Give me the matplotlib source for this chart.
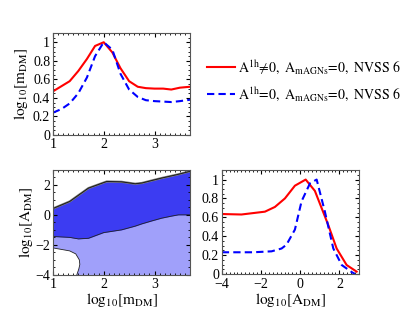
import numpy as np
import matplotlib.pyplot as plt
from matplotlib.lines import Line2D
from matplotlib.ticker import MultipleLocator

plt.rcParams['font.family'] = ['Liberation Serif', 'DejaVu Serif']
plt.rcParams['mathtext.fontset'] = 'stix'

# 1D marginal in log10[m_DM]
m_red = [1.0, 1.33, 1.5, 1.67, 1.83, 2.0, 2.17, 2.33, 2.5, 2.67, 2.83, 3.0, 3.17, 3.33, 3.5, 3.7]
p_m_red = [0.47, 0.58, 0.69, 0.82, 0.96, 1.0, 0.89, 0.72, 0.58, 0.52, 0.505, 0.50, 0.50, 0.49, 0.51, 0.52]
m_blue = [1.0, 1.17, 1.33, 1.5, 1.67, 1.83, 2.0, 2.17, 2.33, 2.5, 2.67, 2.83, 3.0, 3.17, 3.33, 3.5, 3.7]
p_m_blue = [0.24, 0.28, 0.34, 0.45, 0.62, 0.85, 1.0, 0.92, 0.66, 0.49, 0.41, 0.375, 0.365, 0.36, 0.355, 0.365, 0.38]

# 1D marginal in log10[A_DM]
a_red = [-4.0, -3.0, -1.8, -1.29, -0.78, -0.27, 0.28, 0.75, 1.43, 1.86, 2.37, 2.88]
p_a_red = [0.635, 0.63, 0.66, 0.71, 0.80, 0.935, 1.0, 0.88, 0.52, 0.27, 0.095, 0.025]
a_blue = [-4.0, -2.4, -1.46, -0.95, -0.7, -0.27, 0.07, 0.5, 0.84, 1.26, 1.69, 2.12, 2.63, 2.8]
p_a_blue = [0.23, 0.23, 0.24, 0.27, 0.31, 0.47, 0.77, 0.96, 1.0, 0.66, 0.27, 0.095, 0.02, 0.0]

# 2D contours (68% / 95%)
c_x = [1.0, 1.33, 1.5, 1.7, 2.0, 2.06, 2.35, 2.62, 2.75, 2.95, 3.14, 3.34, 3.47, 3.7]
c_top = [0.42, 0.89, 1.3, 1.78, 2.15, 2.22, 2.2, 2.07, 2.12, 2.29, 2.45, 2.6, 2.7, 2.9]
c_mid = [-1.44, -1.5, -1.6, -1.56, -1.18, -1.15, -1.0, -0.75, -0.6, -0.4, -0.22, -0.08, 0.0, 0.0]
lo_x = [1.0, 1.33, 1.45, 1.52, 1.53, 1.51, 1.47, 3.7]
lo_y = [-2.2, -2.4, -2.6, -3.0, -3.3, -3.6, -4.0, -4.0]

leg1 = r'$\mathrm{A}^{\mathrm{1h}}\!\neq\!0,\ \mathrm{A}_{\mathrm{mAGNs}}\!=\!0,\ \mathrm{NVSS\ 6}$'
leg2 = r'$\mathrm{A}^{\mathrm{1h}}\!=\!0,\ \mathrm{A}_{\mathrm{mAGNs}}\!=\!0,\ \mathrm{NVSS\ 6}$'

fig = plt.figure(figsize=(4.07, 3.11), dpi=100)
ax1 = fig.add_axes([0.130, 0.566, 0.337, 0.328])
ax2 = fig.add_axes([0.130, 0.116, 0.337, 0.338])
ax3 = fig.add_axes([0.545, 0.119, 0.337, 0.334])

for ax in (ax1, ax2, ax3):
    ax.tick_params(direction='in', which='both', top=True, right=True, labelsize=10, pad=2)
    ax.tick_params(which='major', length=3)
    ax.tick_params(which='minor', length=1.5)
    for s in ax.spines.values():
        s.set_color('#555555')

ax1.plot(m_red, p_m_red, color='red', lw=1.5)
ax1.plot(m_blue, p_m_blue, color='blue', lw=1.5, ls='--', dashes=(3.5, 2))
ax1.set_xlim(1, 3.7)
ax1.set_ylim(0, 1.1)
ax1.set_yticks([0, 0.2, 0.4, 0.6, 0.8, 1])
ax1.set_yticklabels(['0', '0.2', '0.4', '0.6', '0.8', '1'])
ax1.set_xticks([1, 2, 3])
ax1.xaxis.set_minor_locator(MultipleLocator(0.1))
ax1.yaxis.set_minor_locator(MultipleLocator(0.05))
ax1.set_ylabel(r'$\mathrm{log}_{10}[\mathrm{m}_{\mathrm{DM}}]$', fontsize=11, labelpad=2)

# 95% region: between outer edge and lower edge; 68% region: between middle and outer edge
ax2.fill(c_x + lo_x[::-1], c_top + lo_y[::-1], color='#a0a0fa', lw=0)
ax2.fill_between(c_x, c_mid, c_top, color='#3c3cf2', lw=0)
ax2.plot(c_x, c_top, color='#777777', lw=1.6)
ax2.plot(c_x, c_top, color='#111111', lw=0.6)
ax2.plot(c_x, c_mid, color='#222222', lw=0.6)
ax2.plot(lo_x[:-1], lo_y[:-1], color='#222222', lw=0.6)
ax2.set_xlim(1, 3.7)
ax2.set_ylim(-4, 3)
ax2.set_xticks([1, 2, 3])
ax2.set_yticks([-4, -2, 0, 2])
ax2.set_yticklabels(['\u22124', '\u22122', '0', '2'])
ax2.xaxis.set_minor_locator(MultipleLocator(0.1))
ax2.yaxis.set_minor_locator(MultipleLocator(0.5))
ax2.set_xlabel(r'$\mathrm{log}_{10}[\mathrm{m}_{\mathrm{DM}}]$', fontsize=11, labelpad=0)
ax2.set_ylabel(r'$\mathrm{log}_{10}[\mathrm{A}_{\mathrm{DM}}]$', fontsize=11, labelpad=0)

ax3.plot(a_red, p_a_red, color='red', lw=1.5)
ax3.plot(a_blue, p_a_blue, color='blue', lw=1.5, ls='--', dashes=(3.5, 2))
ax3.set_xlim(-4, 3)
ax3.set_ylim(0, 1.1)
ax3.set_xticks([-4, -2, 0, 2])
ax3.set_xticklabels(['\u22124', '\u22122', '0', '2'])
ax3.set_yticks([0, 0.2, 0.4, 0.6, 0.8, 1])
ax3.set_yticklabels(['0', '0.2', '0.4', '0.6', '0.8', '1'])
ax3.xaxis.set_minor_locator(MultipleLocator(0.2))
ax3.yaxis.set_minor_locator(MultipleLocator(0.05))
ax3.tick_params(axis='x', pad=3)
ax3.set_xlabel(r'$\mathrm{log}_{10}[\mathrm{A}_{\mathrm{DM}}]$', fontsize=11, labelpad=0)

handles = [Line2D([], [], color='red', lw=1.5),
           Line2D([], [], color='blue', lw=1.5, ls='--', dashes=(3.5, 2))]
fig.legend(handles, [leg1, leg2], loc='upper left', bbox_to_anchor=(0.495, 0.83),
           frameon=False, fontsize=10, handlelength=2.0, handletextpad=0.2,
           labelspacing=0.65, borderaxespad=0)

fig.savefig('out.png', dpi=100)
